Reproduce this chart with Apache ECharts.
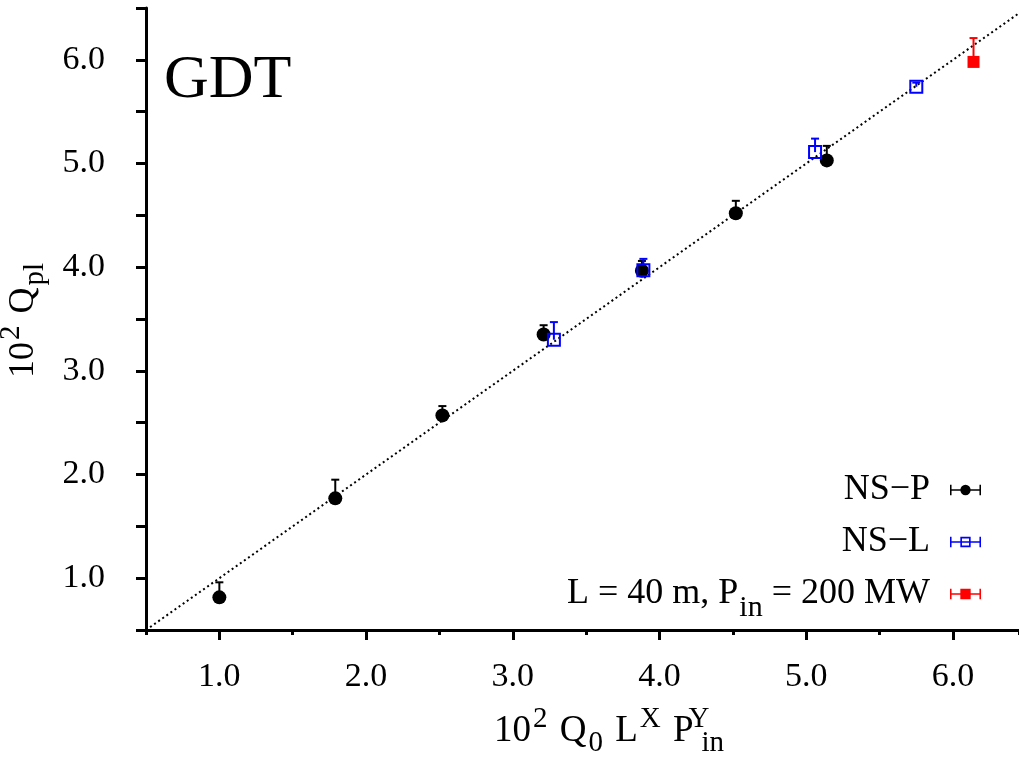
<!DOCTYPE html>
<html>
<head>
<meta charset="utf-8">
<script src="https://cdn.jsdelivr.net/npm/echarts@6/dist/echarts.min.js"></script>
<style>
  html, body { margin: 0; padding: 0; background: #fff; }
  #chart { width: 1019px; height: 761px; }
</style>
</head>
<body>
<div id="chart"></div>
<script>
// 数据
const nspX = [1.00, 1.79, 2.52, 3.21, 3.88, 4.52, 5.14];
const nspY = [0.815, 1.77, 2.57, 3.35, 3.965, 4.52, 5.03];
const nspTop = [0.96, 1.95, 2.66, 3.44, 4.06, 4.64, 5.17];

const nslX = [3.28, 3.89, 5.06, 5.75];
const nslY = [3.30, 3.97, 5.11, 5.74];
const nslTop = [3.47, 4.08, 5.24, 5.78];

const refX = [6.14];
const refY = [5.98];
const refTop = [6.21];

const diagonal = [0.5, 6.5];          // y = x guide line
const xMajorTicks = [1, 2, 3, 4, 5, 6];
const seriesNames = ['NS\u2212P', 'NS\u2212L', 'L = 40 m, Pin = 200 MW'];

const FONT = 'Liberation Serif';

const pts = (xs, ys) => xs.map((x, i) => [x, ys[i]]);
const bars = (xs, ys, tops) => xs.map((x, i) => [x, ys[i], tops[i]]);

// 误差棒 (upper side only, as in the picture)
function errorBar(params, api) {
    const lo = api.coord([api.value(0), api.value(1)]);
    const hi = api.coord([api.value(0), api.value(2)]);
    const color = api.visual('color');
    const cap = 4;
    return {
        type: 'group',
        children: [
            { type: 'line', shape: { x1: lo[0], y1: lo[1], x2: hi[0], y2: hi[1] }, style: { stroke: color, lineWidth: 2 } },
            { type: 'line', shape: { x1: hi[0] - cap, y1: hi[1], x2: hi[0] + cap, y2: hi[1] }, style: { stroke: color, lineWidth: 2 } }
        ]
    };
}

// legend icons: horizontal error bar + marker
const BAR = 'M0 1H1.5V5.25H28.5V1H30V11H28.5V6.75H1.5V11H0Z';
const ICON_CIRCLE = 'path://' + BAR + 'M15 1A5 5 0 1 1 15 11A5 5 0 1 1 15 1Z';
const ICON_HOLLOW = 'path://' + BAR + 'M10 1H20V11H10ZM11.6 2.6V9.4H18.4V2.6Z';
const ICON_SQUARE = 'path://' + BAR + 'M10 1H20V11H10Z';

const legendText = {};
legendText[seriesNames[0]] = '{tr|NS\u2212P}';
legendText[seriesNames[1]] = '{tr|NS\u2212L}';
legendText[seriesNames[2]] = '{t|L = 40 m, P}{s|in}{tr| = 200 MW}';

const chart = echarts.init(document.getElementById('chart'));

const axisCommon = {
    type: 'value',
    min: 0.5,
    axisLine: { lineStyle: { color: '#000', width: 3 } },
    splitLine: { show: false }
};

const titleRich = {
    sup: { fontSize: 29, fontFamily: FONT, padding: [0, 3, 24, 2] },
    supz: { fontSize: 29, fontFamily: FONT, padding: [0, 0, 24, 5], width: 1 },
    sub: { fontSize: 29, fontFamily: FONT, padding: [24, 3, 0, 2] }
};

chart.setOption({
    animation: false,
    backgroundColor: '#fff',
    textStyle: { fontFamily: FONT },
    grid: { left: 146, right: 0, top: 8, bottom: 131, containLabel: false, outerBoundsMode: 'none' },
    xAxis: [
        {
            ...axisCommon,
            max: 6.45,
            interval: 0.5,
            axisTick: { length: 5, lineStyle: { color: '#000', width: 3 } },
            axisLabel: {
                color: '#000', fontSize: 34, fontFamily: FONT, margin: 30,
                formatter: v => (Math.abs(v - Math.round(v)) < 1e-6 ? v.toFixed(1) : '')
            },
            name: '10{sup|2} Q{sub|0} L{sup|X} P{supz|Y}{sub|in}',
            nameLocation: 'middle',
            nameGap: 75,
            nameTextStyle: {
                color: '#000', fontSize: 37, fontFamily: FONT, padding: [0, 0, 0, 56],
                rich: titleRich
            }
        },
        {
            ...axisCommon,
            max: 6.45,
            position: 'bottom',
            axisLine: { show: false },
            axisLabel: { show: false },
            axisTick: { customValues: xMajorTicks, length: 10, lineStyle: { color: '#000', width: 3 } }
        }
    ],
    yAxis: {
        ...axisCommon,
        max: 6.5,
        interval: 0.5,
        axisTick: { length: 10, lineStyle: { color: '#000', width: 3 } },
        axisLabel: {
            color: '#000', fontSize: 34, fontFamily: FONT, margin: 41,
            formatter: v => (Math.abs(v - Math.round(v)) < 1e-6 ? v.toFixed(1) : '')
        },
        name: '10{sup|2} Q{sub|pl}',
        nameLocation: 'middle',
        nameRotate: 90,
        nameGap: 96,
        nameTextStyle: {
            color: '#000', fontSize: 36, fontFamily: FONT,
            rich: titleRich
        }
    },
    legend: {
        orient: 'vertical',
        right: 33,
        top: 467,
        align: 'right',
        itemWidth: 31,
        itemHeight: 11,
        itemGap: 16,
        selectedMode: false,
        data: [
            { name: seriesNames[0], icon: ICON_CIRCLE, itemStyle: { color: '#000', borderWidth: 0, opacity: 1 } },
            { name: seriesNames[1], icon: ICON_HOLLOW, itemStyle: { color: '#0000ff', borderWidth: 0, opacity: 1 } },
            { name: seriesNames[2], icon: ICON_SQUARE, itemStyle: { color: '#ff0000', borderWidth: 0, opacity: 1 } }
        ],
        formatter: name => legendText[name],
        textStyle: {
            color: '#000', fontSize: 36, fontFamily: FONT,
            rich: {
                t: { fontSize: 36, fontFamily: FONT },
                tr: { fontSize: 36, fontFamily: FONT, padding: [0, 15, 0, 0] },
                s: { fontSize: 30, fontFamily: FONT, padding: [28, 0, 0, 1] }
            }
        }
    },
    graphic: [
        {
            type: 'text',
            left: 164,
            top: 50,
            style: { text: 'GDT', font: '62px "Liberation Serif"', fill: '#000' }
        }
    ],
    series: [
        {
            type: 'line',
            data: pts(diagonal, diagonal),
            symbol: 'none',
            silent: true,
            lineStyle: { color: '#000', width: 2, type: [2, 3] },
            z: 1
        },
        {
            type: 'custom',
            renderItem: errorBar,
            data: bars(nspX, nspY, nspTop),
            itemStyle: { color: '#000' },
            z: 2
        },
        {
            type: 'custom',
            renderItem: errorBar,
            data: bars(nslX, nslY, nslTop),
            itemStyle: { color: '#0000ff' },
            z: 2
        },
        {
            type: 'custom',
            renderItem: errorBar,
            data: bars(refX, refY, refTop),
            itemStyle: { color: '#ff0000' },
            z: 2
        },
        {
            name: seriesNames[0],
            type: 'scatter',
            data: pts(nspX, nspY),
            symbol: 'circle',
            symbolSize: 14,
            itemStyle: { color: '#000', opacity: 1 },
            z: 3
        },
        {
            name: seriesNames[1],
            type: 'scatter',
            data: pts(nslX, nslY),
            symbol: 'rect',
            symbolSize: 12,
            itemStyle: { color: 'rgba(0,0,0,0)', borderColor: '#0000ff', borderWidth: 2, opacity: 1 },
            z: 4
        },
        {
            name: seriesNames[2],
            type: 'scatter',
            data: pts(refX, refY),
            symbol: 'rect',
            symbolSize: 12,
            itemStyle: { color: '#ff0000', opacity: 1 },
            z: 4
        }
    ]
});

window.addEventListener('resize', () => chart.resize());
</script>
</body>
</html>
